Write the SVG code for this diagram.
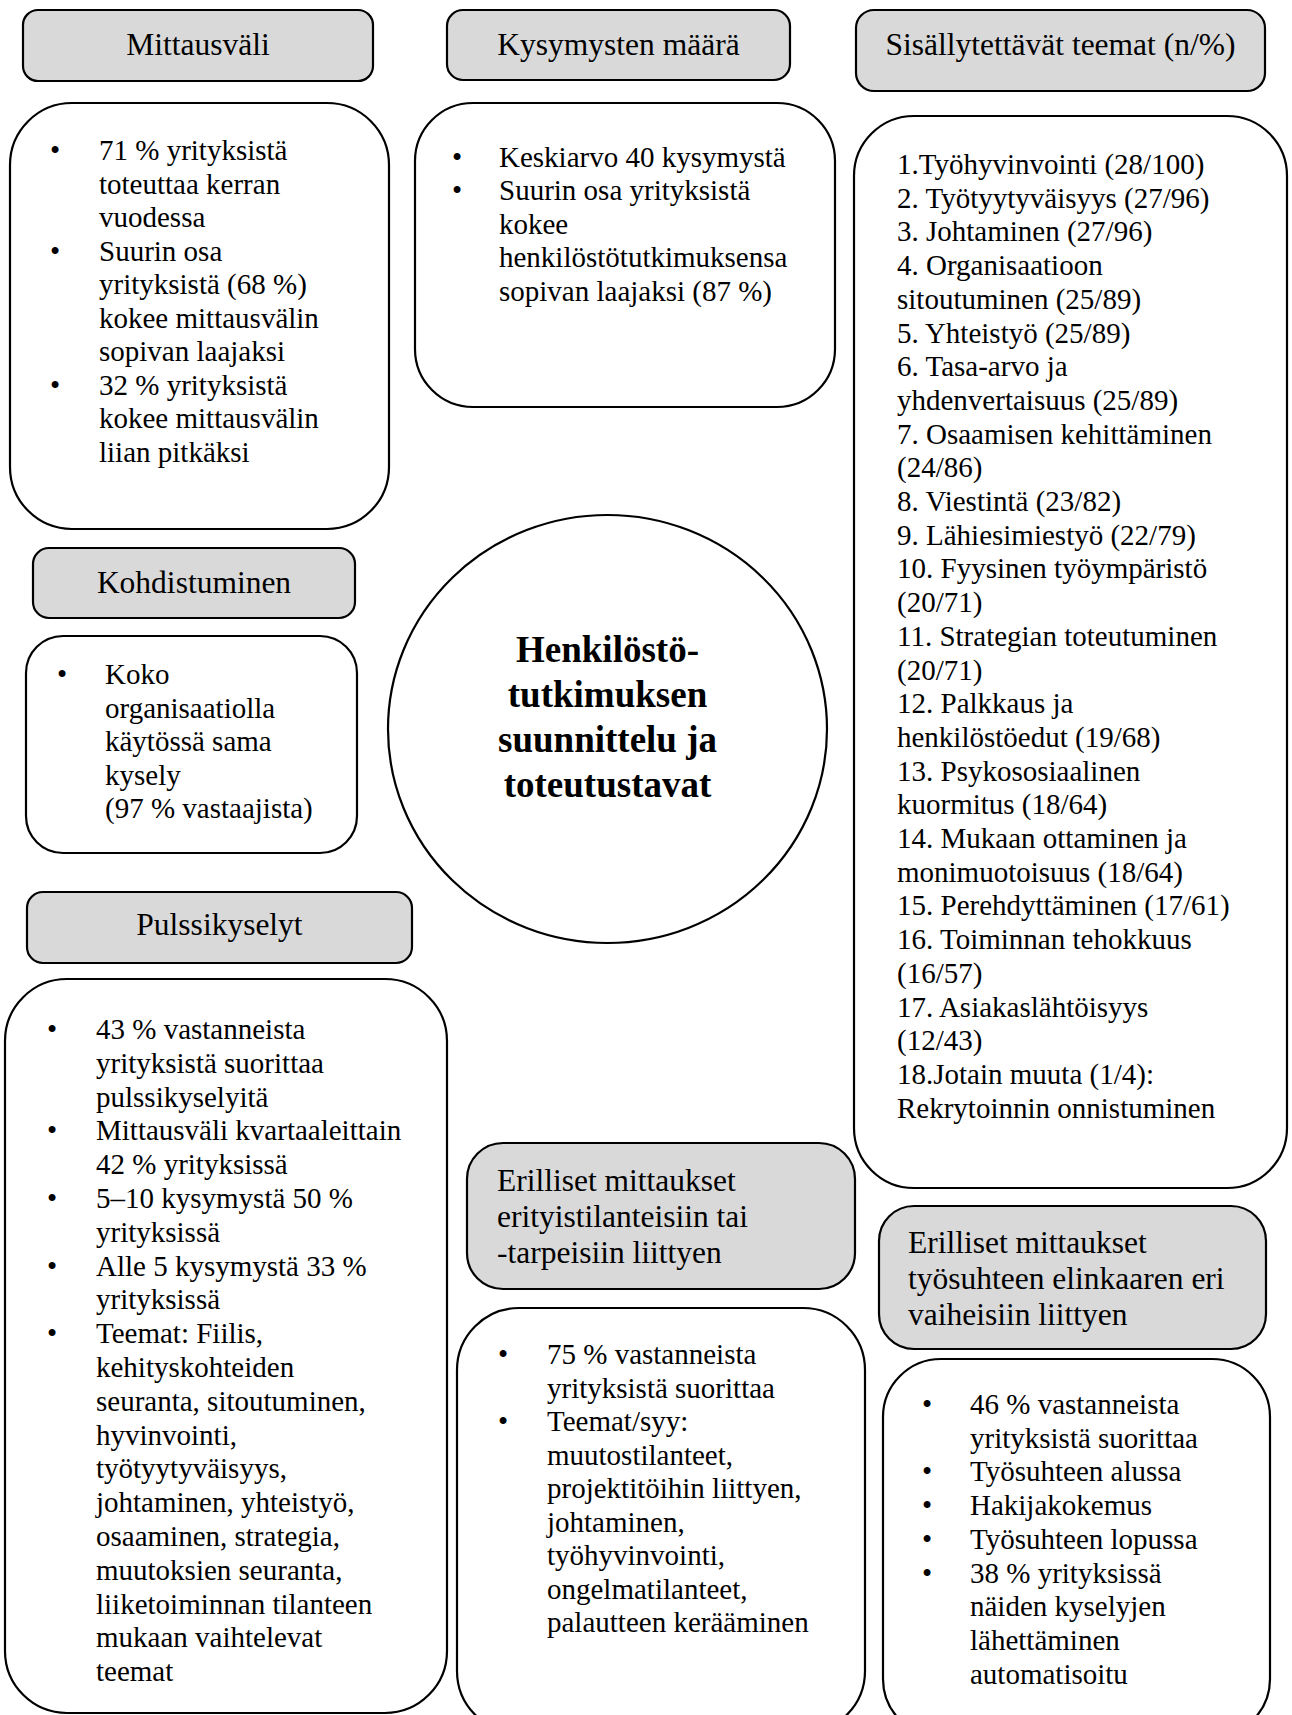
<svg xmlns="http://www.w3.org/2000/svg" width="1292" height="1715" viewBox="0 0 1292 1715">
<style>
  .hdr { fill: #d9d9d9; stroke: #000; stroke-width: 2.2; }
  .box { fill: #fff; stroke: #000; stroke-width: 2.2; }
  .ht { font-family: "Liberation Serif", "Times New Roman", serif; font-size: 31.5px; fill: #000; }
  .c { text-anchor: middle; }
  .bt { font-family: "Liberation Serif", "Times New Roman", serif; font-size: 29px; fill: #000; }
  .bu { font-family: "Liberation Serif", "Times New Roman", serif; font-size: 29px; fill: #000; text-anchor: middle; }
  .title { font-family: "Liberation Serif", "Times New Roman", serif; font-size: 37px; font-weight: bold; fill: #000; text-anchor: middle; }
</style>
<rect width="1292" height="1715" fill="#fff"/>

<g id="connectors"/>

<g id="hdr-mittausvali">
  <rect class="hdr" x="23" y="10" width="350" height="71" rx="15"/>
  <text class="ht c" x="198" y="55">Mittausväli</text>
</g>
<g id="body-mittausvali">
  <rect class="box" x="10" y="103" width="379" height="426" rx="62"/>
  <text class="bu" x="55" y="160">•</text>
  <text class="bu" x="55" y="260.5">•</text>
  <text class="bu" x="55" y="394.5">•</text>
  <text class="bt" x="99" y="160">71 % yrityksistä</text>
  <text class="bt" x="99" y="193.5">toteuttaa kerran</text>
  <text class="bt" x="99" y="227">vuodessa</text>
  <text class="bt" x="99" y="260.5">Suurin osa</text>
  <text class="bt" x="99" y="294">yrityksistä (68 %)</text>
  <text class="bt" x="99" y="327.5">kokee mittausvälin</text>
  <text class="bt" x="99" y="361">sopivan laajaksi</text>
  <text class="bt" x="99" y="394.5">32 % yrityksistä</text>
  <text class="bt" x="99" y="428">kokee mittausvälin</text>
  <text class="bt" x="99" y="461.5">liian pitkäksi</text>
</g>

<g id="hdr-kysymysten">
  <rect class="hdr" x="447" y="10" width="343" height="70" rx="16"/>
  <text class="ht c" x="618.5" y="55">Kysymysten määrä</text>
</g>
<g id="body-kysymysten">
  <rect class="box" x="415" y="103" width="420" height="304" rx="58"/>
  <text class="bu" x="457" y="167">•</text>
  <text class="bu" x="457" y="200.4">•</text>
  <text class="bt" x="499" y="167">Keskiarvo 40 kysymystä</text>
  <text class="bt" x="499" y="200.4">Suurin osa yrityksistä</text>
  <text class="bt" x="499" y="233.8">kokee</text>
  <text class="bt" x="499" y="267.2">henkilöstötutkimuksensa</text>
  <text class="bt" x="499" y="300.6">sopivan laajaksi (87 %)</text>
</g>

<g id="hdr-teemat">
  <rect class="hdr" x="856" y="10" width="409" height="81" rx="18"/>
  <text class="ht c" x="1060.5" y="55">Sisällytettävät teemat (n/%)</text>
</g>
<g id="body-teemat">
  <rect class="box" x="854" y="116" width="433" height="1072" rx="60"/>
  <text class="bt" x="897" y="174">1.Työhyvinvointi (28/100)</text>
  <text class="bt" x="897" y="207.7">2. Työtyytyväisyys (27/96)</text>
  <text class="bt" x="897" y="241.4">3. Johtaminen (27/96)</text>
  <text class="bt" x="897" y="275.1">4. Organisaatioon</text>
  <text class="bt" x="897" y="308.8">sitoutuminen (25/89)</text>
  <text class="bt" x="897" y="342.5">5. Yhteistyö (25/89)</text>
  <text class="bt" x="897" y="376.2">6. Tasa-arvo ja</text>
  <text class="bt" x="897" y="409.9">yhdenvertaisuus (25/89)</text>
  <text class="bt" x="897" y="443.6">7. Osaamisen kehittäminen</text>
  <text class="bt" x="897" y="477.3">(24/86)</text>
  <text class="bt" x="897" y="511">8. Viestintä (23/82)</text>
  <text class="bt" x="897" y="544.7">9. Lähiesimiestyö (22/79)</text>
  <text class="bt" x="897" y="578.4">10. Fyysinen työympäristö</text>
  <text class="bt" x="897" y="612.1">(20/71)</text>
  <text class="bt" x="897" y="645.8">11. Strategian toteutuminen</text>
  <text class="bt" x="897" y="679.5">(20/71)</text>
  <text class="bt" x="897" y="713.2">12. Palkkaus ja</text>
  <text class="bt" x="897" y="746.9">henkilöstöedut (19/68)</text>
  <text class="bt" x="897" y="780.6">13. Psykososiaalinen</text>
  <text class="bt" x="897" y="814.3">kuormitus (18/64)</text>
  <text class="bt" x="897" y="848">14. Mukaan ottaminen ja</text>
  <text class="bt" x="897" y="881.7">monimuotoisuus (18/64)</text>
  <text class="bt" x="897" y="915.4">15. Perehdyttäminen (17/61)</text>
  <text class="bt" x="897" y="949.1">16. Toiminnan tehokkuus</text>
  <text class="bt" x="897" y="982.8">(16/57)</text>
  <text class="bt" x="897" y="1016.5">17. Asiakaslähtöisyys</text>
  <text class="bt" x="897" y="1050.2">(12/43)</text>
  <text class="bt" x="897" y="1083.9">18.Jotain muuta (1/4):</text>
  <text class="bt" x="897" y="1117.6">Rekrytoinnin onnistuminen</text>
</g>

<g id="hdr-kohdistuminen">
  <rect class="hdr" x="33" y="548" width="322" height="70" rx="16"/>
  <text class="ht c" x="194" y="593">Kohdistuminen</text>
</g>
<g id="body-kohdistuminen">
  <rect class="box" x="26" y="636" width="331" height="217" rx="37"/>
  <text class="bu" x="62" y="684">•</text>
  <text class="bt" x="105" y="684">Koko</text>
  <text class="bt" x="105" y="717.5">organisaatiolla</text>
  <text class="bt" x="105" y="751">käytössä sama</text>
  <text class="bt" x="105" y="784.5">kysely</text>
  <text class="bt" x="105" y="818">(97 % vastaajista)</text>
</g>

<g id="center">
  <ellipse cx="607.5" cy="729" rx="219.5" ry="214" fill="#fff" stroke="#000" stroke-width="2.2"/>
  <text class="title" x="607.5" y="662">Henkilöstö-</text>
  <text class="title" x="607.5" y="707">tutkimuksen</text>
  <text class="title" x="607.5" y="752">suunnittelu ja</text>
  <text class="title" x="607.5" y="797">toteutustavat</text>
</g>

<g id="hdr-pulssi">
  <rect class="hdr" x="27" y="892" width="385" height="71" rx="16"/>
  <text class="ht c" x="219.5" y="935">Pulssikyselyt</text>
</g>
<g id="body-pulssi">
  <rect class="box" x="5" y="979" width="442" height="734" rx="62"/>
  <text class="bu" x="52" y="1039">•</text>
  <text class="bu" x="52" y="1140.4">•</text>
  <text class="bu" x="52" y="1208">•</text>
  <text class="bu" x="52" y="1275.6">•</text>
  <text class="bu" x="52" y="1343.2">•</text>
  <text class="bt" x="96" y="1039">43 % vastanneista</text>
  <text class="bt" x="96" y="1072.8">yrityksistä suorittaa</text>
  <text class="bt" x="96" y="1106.6">pulssikyselyitä</text>
  <text class="bt" x="96" y="1140.4">Mittausväli kvartaaleittain</text>
  <text class="bt" x="96" y="1174.2">42 % yrityksissä</text>
  <text class="bt" x="96" y="1208">5–10 kysymystä 50 %</text>
  <text class="bt" x="96" y="1241.8">yrityksissä</text>
  <text class="bt" x="96" y="1275.6">Alle 5 kysymystä 33 %</text>
  <text class="bt" x="96" y="1309.4">yrityksissä</text>
  <text class="bt" x="96" y="1343.2">Teemat: Fiilis,</text>
  <text class="bt" x="96" y="1377">kehityskohteiden</text>
  <text class="bt" x="96" y="1410.8">seuranta, sitoutuminen,</text>
  <text class="bt" x="96" y="1444.6">hyvinvointi,</text>
  <text class="bt" x="96" y="1478.4">työtyytyväisyys,</text>
  <text class="bt" x="96" y="1512.2">johtaminen, yhteistyö,</text>
  <text class="bt" x="96" y="1546">osaaminen, strategia,</text>
  <text class="bt" x="96" y="1579.8">muutoksien seuranta,</text>
  <text class="bt" x="96" y="1613.6">liiketoiminnan tilanteen</text>
  <text class="bt" x="96" y="1647.4">mukaan vaihtelevat</text>
  <text class="bt" x="96" y="1681.2">teemat</text>
</g>

<g id="hdr-erityis">
  <rect class="hdr" x="467" y="1143" width="388" height="146" rx="36"/>
  <text class="ht" x="497" y="1191">Erilliset mittaukset</text>
  <text class="ht" x="497" y="1227">erityistilanteisiin tai</text>
  <text class="ht" x="497" y="1263">-tarpeisiin liittyen</text>
</g>
<g id="body-erityis">
  <rect class="box" x="457" y="1308" width="408" height="425" rx="62"/>
  <text class="bu" x="503" y="1364">•</text>
  <text class="bu" x="503" y="1431">•</text>
  <text class="bt" x="547" y="1364">75 % vastanneista</text>
  <text class="bt" x="547" y="1397.5">yrityksistä suorittaa</text>
  <text class="bt" x="547" y="1431">Teemat/syy:</text>
  <text class="bt" x="547" y="1464.5">muutostilanteet,</text>
  <text class="bt" x="547" y="1498">projektitöihin liittyen,</text>
  <text class="bt" x="547" y="1531.5">johtaminen,</text>
  <text class="bt" x="547" y="1565">työhyvinvointi,</text>
  <text class="bt" x="547" y="1598.5">ongelmatilanteet,</text>
  <text class="bt" x="547" y="1632">palautteen kerääminen</text>
</g>

<g id="hdr-elinkaari">
  <rect class="hdr" x="879" y="1206" width="387" height="143" rx="35"/>
  <text class="ht" x="908" y="1253">Erilliset mittaukset</text>
  <text class="ht" x="908" y="1289">työsuhteen elinkaaren eri</text>
  <text class="ht" x="908" y="1325">vaiheisiin liittyen</text>
</g>
<g id="body-elinkaari">
  <rect class="box" x="883" y="1359" width="387" height="378" rx="58"/>
  <text class="bu" x="927" y="1414">•</text>
  <text class="bu" x="927" y="1481.4">•</text>
  <text class="bu" x="927" y="1515.1">•</text>
  <text class="bu" x="927" y="1548.8">•</text>
  <text class="bu" x="927" y="1582.5">•</text>
  <text class="bt" x="970" y="1414">46 % vastanneista</text>
  <text class="bt" x="970" y="1447.7">yrityksistä suorittaa</text>
  <text class="bt" x="970" y="1481.4">Työsuhteen alussa</text>
  <text class="bt" x="970" y="1515.1">Hakijakokemus</text>
  <text class="bt" x="970" y="1548.8">Työsuhteen lopussa</text>
  <text class="bt" x="970" y="1582.5">38 % yrityksissä</text>
  <text class="bt" x="970" y="1616.2">näiden kyselyjen</text>
  <text class="bt" x="970" y="1649.9">lähettäminen</text>
  <text class="bt" x="970" y="1683.6">automatisoitu</text>
</g>
</svg>
